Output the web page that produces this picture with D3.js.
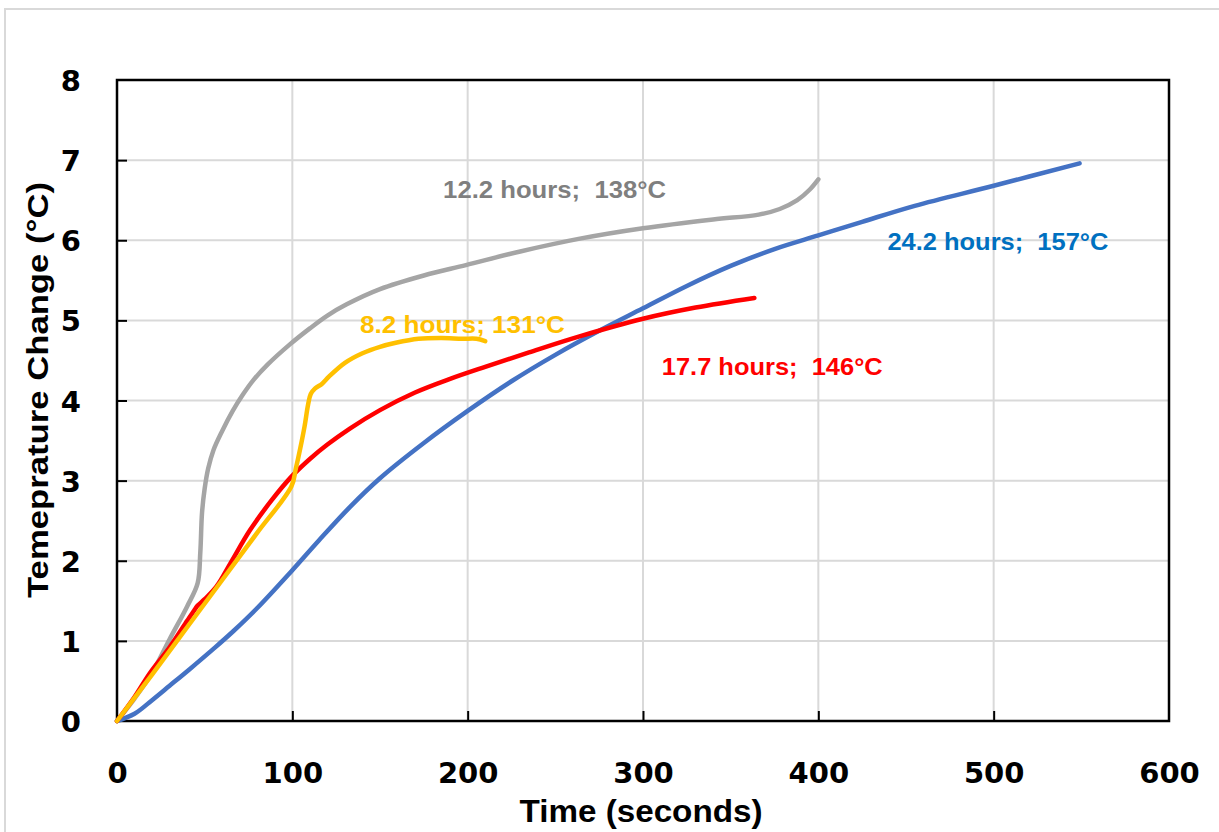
<!DOCTYPE html>
<html>
<head>
<meta charset="utf-8">
<script src="https://cdn.jsdelivr.net/npm/d3@7"></script>
<style>
  html, body { margin: 0; padding: 0; background: #ffffff; }
  svg { display: block; }
</style>
</head>
<body>
<svg id="chart" width="1219" height="832"></svg>
<script>
// Axis ticks
const timeTicks = [0, 100, 200, 300, 400, 500, 600];
const tempTicks = [0, 1, 2, 3, 4, 5, 6, 7, 8];

// Temperature change (°C) against time (s) for each run
const run122h = [[0,0],[10,0.28],[20,0.6],[30,1.02],[40,1.43],[46,1.72],[47.5,2.1],[48.5,2.6],[50,2.9],[52,3.15],[55,3.38],[60,3.62],[66,3.87],[72,4.08],[78,4.26],[86,4.45],[98.6,4.7],[110,4.9],[120,5.06],[131,5.2],[150,5.39],[175,5.56],[199,5.69],[230,5.86],[264,6.02],[300,6.15],[340,6.26],[366,6.32],[378,6.39],[388,6.5],[395,6.63],[400,6.76]];
const run82h  = [[0,0],[20,0.58],[40,1.17],[60,1.76],[80,2.35],[99.5,2.93],[102,3.15],[104.5,3.4],[107,3.68],[109,3.95],[110.5,4.08],[113,4.15],[117,4.21],[121,4.3],[130,4.47],[140,4.59],[150,4.67],[159,4.72],[172,4.77],[185,4.78],[197,4.77],[205,4.77],[210,4.74]];
const run177h = [[0,0],[10,0.3],[18.8,0.6],[30,0.92],[40,1.25],[44,1.38],[46,1.44],[50,1.52],[56.8,1.68],[65,1.98],[75.8,2.38],[88,2.75],[99.5,3.05],[110,3.27],[120,3.45],[132.8,3.65],[150,3.88],[170,4.1],[190,4.27],[210,4.42],[235,4.6],[263.8,4.8],[300,5.02],[330,5.16],[363.5,5.28]];
const run242h = [[0,0],[10,0.09],[20,0.26],[30,0.44],[41.6,0.65],[55,0.9],[66.3,1.12],[80,1.41],[99.5,1.87],[115,2.25],[132.8,2.67],[150,3.03],[175,3.47],[200,3.87],[225,4.24],[250,4.57],[275,4.87],[300,5.15],[325,5.43],[350,5.68],[375,5.89],[400,6.06],[425,6.23],[455,6.43],[500,6.68],[549,6.96]];

const runLabels = ["12.2 hours;  138°C", "8.2 hours; 131°C", "17.7 hours;  146°C", "24.2 hours;  157°C"];

// Drawing order and styling for each run
const runs = [
  { data: run122h, label: runLabels[0], line: "#a5a5a5", text: "#7f7f7f", at: [186, 6.525], len: 223 },
  { data: run242h, label: runLabels[3], line: "#4472c4", text: "#0070c0", at: [439.4, 5.878], len: 221 },
  { data: run177h, label: runLabels[2], line: "#ff0000", text: "#ff0000", at: [310.7, 4.318], len: 221 },
  { data: run82h,  label: runLabels[1], line: "#ffc000", text: "#ffc000", at: [138.6, 4.846], len: 205 }
];

const svg = d3.select("#chart");
const plot = { left: 117, right: 1169, top: 80, bottom: 721 };

// Chart area frame
svg.append("rect")
  .attr("x", 5).attr("y", 9).attr("width", 1230).attr("height", 840)
  .attr("fill", "#ffffff").attr("stroke", "#d9d9d9").attr("stroke-width", 2);

const x = d3.scaleLinear().domain([0, 600]).range([plot.left, plot.right]);
const y = d3.scaleLinear().domain([0, 8]).range([plot.bottom, plot.top]);

// Gridlines
const grid = svg.append("g").attr("stroke", "#d9d9d9").attr("stroke-width", 2);
grid.selectAll("line.v").data(timeTicks.slice(1, -1)).join("line")
  .attr("x1", d => x(d)).attr("x2", d => x(d))
  .attr("y1", plot.top).attr("y2", plot.bottom);
grid.selectAll("line.h").data(tempTicks.slice(1, -1)).join("line")
  .attr("x1", plot.left).attr("x2", plot.right)
  .attr("y1", d => y(d)).attr("y2", d => y(d));

// Axes with inward ticks
const tickFont = "'DejaVu Sans', sans-serif";
const xAxis = svg.append("g")
  .attr("transform", `translate(0,${plot.bottom})`)
  .call(d3.axisBottom(x).tickValues(timeTicks).tickSize(-10).tickSizeOuter(0).tickPadding(30));
const yAxis = svg.append("g")
  .attr("transform", `translate(${plot.left},0)`)
  .call(d3.axisLeft(y).tickValues(tempTicks).tickSize(-10).tickSizeOuter(0).tickPadding(34));

[xAxis, yAxis].forEach(g => {
  g.select(".domain").remove();
  g.selectAll(".tick line").attr("stroke", "#000").attr("stroke-width", 2);
  g.selectAll(".tick text")
    .attr("fill", "#000")
    .style("font-family", tickFont)
    .style("font-weight", "bold")
    .style("font-size", "29px");
});
xAxis.selectAll(".tick text").attr("dy", null).attr("y", 62);
yAxis.selectAll(".tick text").attr("dy", null).attr("x", -36).attr("y", 10.5);
// no tick marks on the frame edges
xAxis.selectAll(".tick").filter(d => d === 0 || d === 600).select("line").remove();
yAxis.selectAll(".tick").filter(d => d === 0 || d === 8).select("line").remove();

// Plot frame
svg.append("rect")
  .attr("x", plot.left).attr("y", plot.top)
  .attr("width", plot.right - plot.left).attr("height", plot.bottom - plot.top)
  .attr("fill", "none").attr("stroke", "#000").attr("stroke-width", 2.5);

// Curves
const line = d3.line().x(d => x(d[0])).y(d => y(d[1])).curve(d3.curveCatmullRom.alpha(0.5));
svg.append("g").selectAll("path").data(runs).join("path")
  .attr("d", d => line(d.data))
  .attr("fill", "none")
  .attr("stroke", d => d.line)
  .attr("stroke-width", 4.5)
  .attr("stroke-linejoin", "round")
  .attr("stroke-linecap", "round");

// Run annotations
svg.append("g").selectAll("text").data(runs).join("text")
  .attr("x", d => x(d.at[0]))
  .attr("y", d => y(d.at[1]))
  .attr("fill", d => d.text)
  .attr("textLength", d => d.len)
  .attr("lengthAdjust", "spacingAndGlyphs")
  .style("font-family", "'Liberation Sans', Arial, sans-serif")
  .style("font-weight", "bold")
  .style("font-size", "24px")
  .style("white-space", "pre")
  .text(d => d.label);

// Axis titles
svg.append("text")
  .attr("x", 641).attr("y", 822)
  .attr("text-anchor", "middle")
  .attr("textLength", 243).attr("lengthAdjust", "spacingAndGlyphs")
  .style("font-family", "'Liberation Sans', Arial, sans-serif")
  .style("font-weight", "bold").style("font-size", "32px")
  .text("Time (seconds)");

svg.append("text")
  .attr("transform", "translate(48,390) rotate(-90)")
  .attr("text-anchor", "middle")
  .attr("textLength", 416).attr("lengthAdjust", "spacingAndGlyphs")
  .style("font-family", "'Liberation Sans', Arial, sans-serif")
  .style("font-weight", "bold").style("font-size", "30px")
  .text("Temeprature Change (°C)");
</script>
</body>
</html>
